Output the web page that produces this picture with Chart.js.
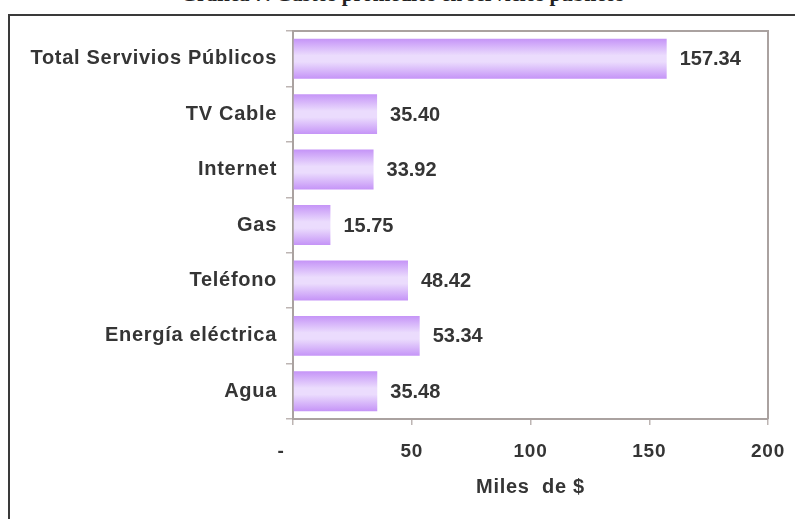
<!DOCTYPE html>
<html>
<head>
<meta charset="utf-8">
<script src="https://cdn.jsdelivr.net/npm/chart.js@4/dist/chart.umd.min.js"></script>
<style>
  html, body { margin: 0; padding: 0; background: #ffffff; }
  body { width: 795px; height: 519px; position: relative; overflow: hidden; }
  #frame { position: absolute; left: 8px; top: 14px; width: 900px; height: 700px; border: 2px solid #3a3a3a; box-sizing: border-box; }
  #title { position: absolute; left: 0; width: 805px; top: -16px; text-align: center; font: bold 21px "Liberation Serif", "Times New Roman", serif; line-height: 21px; color: #222; white-space: nowrap; }
  #wrap { position: absolute; left: 0; top: 0; width: 795px; height: 519px; }
</style>
</head>
<body>
<div id="title">Gráfica 7. Gastos promedios en servicios públicos</div>
<div id="frame"></div>
<div id="wrap"><canvas id="c" width="795" height="519"></canvas></div>
<script>
const categories = ['Total Servivios Públicos', 'TV Cable', 'Internet', 'Gas', 'Teléfono', 'Energía eléctrica', 'Agua'];
const values = [157.34, 35.40, 33.92, 15.75, 48.42, 53.34, 35.48];
const xTickValues = [0, 50, 100, 150, 200];
const xTickLabels = ['-', '50', '100', '150', '200'];
const axisTitle = 'Miles  de $';

const TEXT = '#353535';
const AXIS = '#aaa2a0';
const FONT = '"Liberation Sans", Arial, sans-serif';

function barGradient(ctx) {
  const chart = ctx.chart;
  const ys = chart.scales && chart.scales.y;
  if (!ys || !chart.chartArea) return '#d8b8fa';
  const c = ys.getPixelForValue(ctx.dataIndex);
  const band = Math.abs(ys.getPixelForValue(1) - ys.getPixelForValue(0));
  const half = band * 0.72 / 2;
  const g = chart.ctx.createLinearGradient(0, c - half, 0, c + half);
  g.addColorStop(0, '#c594f7');
  g.addColorStop(0.42, '#ebdcfd');
  g.addColorStop(0.58, '#ebdcfd');
  g.addColorStop(1, '#c594f7');
  return g;
}

const spacing = {
  id: 'spacing',
  beforeDraw(chart) { chart.ctx.letterSpacing = '0.7px'; },
  beforeDatasetsDraw(chart) { chart.ctx.letterSpacing = '0px'; }
};

const frameBox = {
  id: 'frameBox',
  afterDatasetsDraw(chart) {
    const a = chart.chartArea, ctx = chart.ctx;
    ctx.save();
    ctx.strokeStyle = AXIS;
    ctx.lineWidth = 2;
    ctx.beginPath();
    ctx.moveTo(a.left, a.top); ctx.lineTo(a.right, a.top); ctx.lineTo(a.right, a.bottom);
    ctx.stroke();
    ctx.restore();
  }
};

const valueLabels = {
  id: 'valueLabels',
  afterDatasetsDraw(chart) {
    const ctx = chart.ctx;
    const meta = chart.getDatasetMeta(0);
    ctx.save();
    ctx.font = 'bold 20px ' + FONT;
    ctx.fillStyle = TEXT;
    ctx.textAlign = 'left';
    ctx.textBaseline = 'middle';
    meta.data.forEach((bar, i) => {
      ctx.fillText(values[i].toFixed(2), bar.x + 13, bar.y + 1);
    });
    ctx.restore();
  }
};

new Chart(document.getElementById('c'), {
  type: 'bar',
  data: {
    labels: categories,
    datasets: [{
      data: values,
      backgroundColor: barGradient,
      borderWidth: 0,
      barPercentage: 0.72,
      categoryPercentage: 1.0
    }]
  },
  plugins: [spacing, frameBox, valueLabels],
  options: {
    indexAxis: 'y',
    responsive: false,
    animation: false,
    devicePixelRatio: 1,
    layout: { padding: { top: 31, right: 27, bottom: 0, left: 0 } },
    plugins: { legend: { display: false }, tooltip: { enabled: false }, title: { display: false } },
    scales: {
      x: {
        min: 0, max: 200,
        afterFit(s) { s.height = 100; s.paddingLeft = 0; s.paddingRight = 0; },
        afterBuildTicks(s) { s.ticks = xTickValues.map(v => ({ value: v })); },
        ticks: {
          color: TEXT,
          font: { family: FONT, size: 19, weight: 'bold' },
          padding: 15,
          maxRotation: 0,
          callback: (v, i) => xTickLabels[i] === '-' ? '-    ' : xTickLabels[i]
        },
        grid: { drawOnChartArea: false, drawTicks: true, tickLength: 6, color: '#bdb5b3', lineWidth: 1.5 },
        border: { display: true, color: AXIS, width: 2 },
        title: {
          display: true, text: axisTitle, color: TEXT,
          font: { family: FONT, size: 20, weight: 'bold' },
          padding: { top: 0, bottom: 20 }
        }
      },
      y: {
        afterFit(s) { s.width = 293; },
        ticks: {
          color: TEXT,
          font: { family: FONT, size: 20, weight: 'bold' },
          padding: 9
        },
        grid: { drawOnChartArea: false, drawTicks: true, tickLength: 7, color: '#bdb5b3', lineWidth: 1.5 },
        border: { display: true, color: AXIS, width: 2 }
      }
    }
  }
});
</script>
</body>
</html>
